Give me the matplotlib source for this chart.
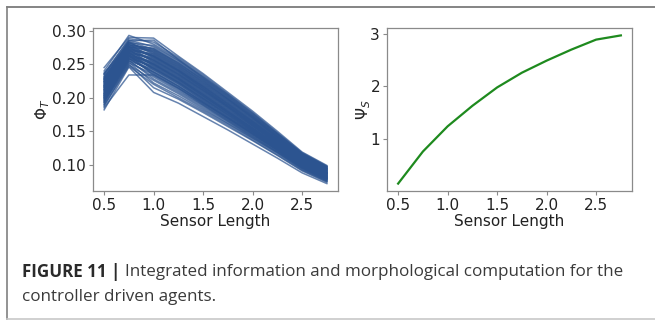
import matplotlib
matplotlib.use("Agg")
import matplotlib.pyplot as plt
from matplotlib.lines import Line2D

# ---- data ----
sensor_length = [0.5, 0.75, 1.0, 1.25, 1.5, 1.75, 2.0, 2.25, 2.5, 2.75]

phi_t_runs = [
    [0.245, 0.290, 0.289, 0.262, 0.236, 0.208, 0.180, 0.150, 0.119, 0.099],
    [0.240, 0.293, 0.280, 0.258, 0.232, 0.205, 0.177, 0.147, 0.117, 0.097],
    [0.236, 0.286, 0.276, 0.255, 0.229, 0.202, 0.174, 0.145, 0.116, 0.096],
    [0.232, 0.284, 0.272, 0.252, 0.226, 0.199, 0.172, 0.143, 0.114, 0.095],
    [0.230, 0.281, 0.270, 0.249, 0.223, 0.197, 0.170, 0.141, 0.113, 0.094],
    [0.228, 0.279, 0.267, 0.246, 0.221, 0.195, 0.168, 0.140, 0.112, 0.093],
    [0.226, 0.283, 0.265, 0.244, 0.219, 0.193, 0.166, 0.138, 0.111, 0.092],
    [0.224, 0.277, 0.263, 0.242, 0.217, 0.191, 0.164, 0.137, 0.110, 0.091],
    [0.222, 0.275, 0.261, 0.240, 0.215, 0.189, 0.163, 0.136, 0.109, 0.090],
    [0.220, 0.280, 0.259, 0.238, 0.213, 0.187, 0.161, 0.135, 0.108, 0.089],
    [0.218, 0.273, 0.257, 0.236, 0.211, 0.186, 0.160, 0.134, 0.107, 0.088],
    [0.216, 0.271, 0.255, 0.234, 0.209, 0.184, 0.158, 0.132, 0.106, 0.087],
    [0.214, 0.276, 0.253, 0.232, 0.207, 0.182, 0.157, 0.131, 0.105, 0.087],
    [0.212, 0.269, 0.251, 0.230, 0.205, 0.180, 0.155, 0.130, 0.104, 0.086],
    [0.210, 0.267, 0.249, 0.228, 0.203, 0.178, 0.154, 0.129, 0.103, 0.085],
    [0.208, 0.272, 0.247, 0.226, 0.201, 0.177, 0.152, 0.128, 0.102, 0.084],
    [0.206, 0.265, 0.245, 0.224, 0.199, 0.175, 0.151, 0.127, 0.101, 0.083],
    [0.204, 0.263, 0.243, 0.222, 0.197, 0.173, 0.149, 0.125, 0.100, 0.082],
    [0.202, 0.268, 0.241, 0.220, 0.195, 0.171, 0.148, 0.124, 0.099, 0.081],
    [0.200, 0.261, 0.239, 0.218, 0.193, 0.170, 0.146, 0.123, 0.098, 0.080],
    [0.198, 0.259, 0.236, 0.215, 0.191, 0.168, 0.145, 0.122, 0.097, 0.079],
    [0.196, 0.264, 0.233, 0.212, 0.189, 0.166, 0.143, 0.120, 0.096, 0.078],
    [0.193, 0.256, 0.228, 0.208, 0.186, 0.164, 0.141, 0.119, 0.095, 0.077],
    [0.190, 0.253, 0.222, 0.203, 0.182, 0.161, 0.139, 0.117, 0.093, 0.076],
    [0.187, 0.250, 0.215, 0.198, 0.178, 0.157, 0.136, 0.114, 0.091, 0.074],
    [0.182, 0.246, 0.208, 0.192, 0.172, 0.152, 0.131, 0.110, 0.088, 0.072],
    [0.185, 0.234, 0.234, 0.214, 0.192, 0.170, 0.147, 0.123, 0.098, 0.079],
    [0.235, 0.288, 0.283, 0.260, 0.234, 0.206, 0.178, 0.148, 0.118, 0.098],
    [0.228, 0.285, 0.286, 0.257, 0.230, 0.203, 0.175, 0.146, 0.116, 0.097],
    [0.225, 0.278, 0.274, 0.253, 0.228, 0.201, 0.173, 0.144, 0.115, 0.095],
    [0.219, 0.282, 0.268, 0.247, 0.222, 0.196, 0.169, 0.141, 0.112, 0.093],
    [0.213, 0.274, 0.262, 0.241, 0.216, 0.190, 0.164, 0.137, 0.110, 0.090],
    [0.209, 0.270, 0.256, 0.235, 0.210, 0.185, 0.159, 0.133, 0.106, 0.088],
    [0.205, 0.266, 0.250, 0.229, 0.204, 0.179, 0.154, 0.129, 0.103, 0.085],
    [0.201, 0.262, 0.244, 0.223, 0.198, 0.174, 0.150, 0.126, 0.100, 0.082],
    [0.197, 0.258, 0.238, 0.217, 0.193, 0.169, 0.146, 0.122, 0.097, 0.080],
    [0.223, 0.270, 0.266, 0.245, 0.220, 0.194, 0.167, 0.139, 0.111, 0.092],
    [0.217, 0.266, 0.260, 0.239, 0.214, 0.188, 0.162, 0.135, 0.108, 0.089],
    [0.211, 0.262, 0.254, 0.233, 0.208, 0.183, 0.158, 0.132, 0.105, 0.087],
    [0.207, 0.258, 0.248, 0.227, 0.202, 0.178, 0.153, 0.128, 0.102, 0.084],
    [0.203, 0.255, 0.242, 0.221, 0.196, 0.172, 0.149, 0.125, 0.099, 0.081],
    [0.199, 0.252, 0.235, 0.214, 0.190, 0.167, 0.144, 0.121, 0.096, 0.079],
    [0.195, 0.249, 0.226, 0.206, 0.184, 0.162, 0.140, 0.118, 0.094, 0.076],
    [0.231, 0.276, 0.271, 0.250, 0.225, 0.198, 0.171, 0.142, 0.113, 0.094],
    [0.227, 0.272, 0.264, 0.243, 0.218, 0.192, 0.165, 0.138, 0.110, 0.091],
    [0.221, 0.268, 0.258, 0.237, 0.212, 0.187, 0.161, 0.134, 0.107, 0.088],
    [0.215, 0.264, 0.252, 0.231, 0.206, 0.181, 0.156, 0.130, 0.104, 0.086],
    [0.189, 0.247, 0.220, 0.200, 0.180, 0.159, 0.137, 0.115, 0.092, 0.075],
    [0.234, 0.282, 0.278, 0.256, 0.231, 0.204, 0.176, 0.146, 0.117, 0.097],
    [0.229, 0.276, 0.269, 0.248, 0.224, 0.198, 0.170, 0.141, 0.113, 0.094],
    [0.224, 0.273, 0.262, 0.241, 0.217, 0.191, 0.165, 0.137, 0.110, 0.091],
    [0.218, 0.270, 0.256, 0.235, 0.211, 0.186, 0.160, 0.133, 0.106, 0.088],
    [0.212, 0.266, 0.250, 0.229, 0.205, 0.180, 0.155, 0.129, 0.103, 0.085],
    [0.206, 0.262, 0.244, 0.223, 0.199, 0.175, 0.151, 0.126, 0.100, 0.082],
    [0.200, 0.258, 0.238, 0.217, 0.194, 0.170, 0.147, 0.123, 0.098, 0.080],
    [0.194, 0.255, 0.231, 0.210, 0.188, 0.165, 0.142, 0.119, 0.095, 0.078],
    [0.237, 0.279, 0.273, 0.251, 0.227, 0.200, 0.172, 0.143, 0.114, 0.095],
    [0.203, 0.276, 0.262, 0.240, 0.214, 0.188, 0.161, 0.134, 0.107, 0.088],
    [0.192, 0.262, 0.250, 0.228, 0.203, 0.178, 0.153, 0.128, 0.102, 0.083],
    [0.216, 0.260, 0.246, 0.225, 0.200, 0.176, 0.152, 0.127, 0.101, 0.083],
]

psi_s = [0.15, 0.76, 1.24, 1.63, 1.98, 2.26, 2.49, 2.70, 2.89, 2.97]

x_ticks = [0.5, 1.0, 1.5, 2.0, 2.5]
phi_ticks = [0.10, 0.15, 0.20, 0.25, 0.30]
psi_ticks = [1, 2, 3]

caption_bold = "FIGURE 11 |"
caption_line1 = "Integrated information and morphological computation for the"
caption_line2 = "controller driven agents."

# ---- figure ----
W, H = 655, 322
fig = plt.figure(figsize=(W / 100, H / 100), dpi=100)
fig.patch.set_facecolor("white")

def fx(px):
    return px / W

def fy(py):
    return 1 - py / H

spine_col = "#8a8a8a"
text_col = "#222222"

ax1 = fig.add_axes([fx(93), fy(191), fx(338) - fx(93), fy(28) - fy(191)])
ax2 = fig.add_axes([fx(387), fy(191), fx(632) - fx(387), fy(28) - fy(191)])

for run in phi_t_runs:
    ax1.plot(sensor_length, run, color="#2c5490", alpha=0.72, lw=1.1)
ax1.set_xticks(x_ticks)
ax1.set_yticks(phi_ticks)
ax1.set_yticklabels([f"{v:.2f}" for v in phi_ticks])
ax1.set_xlabel("Sensor Length", fontsize=11, color=text_col, labelpad=1)
ax1.set_ylabel(r"$\Phi_T$", fontsize=11, color=text_col, labelpad=0)

ax2.plot(sensor_length, psi_s, color="#1e8a1e", lw=1.6)
ax2.set_xticks(x_ticks)
ax2.set_yticks(psi_ticks)
ax2.set_xlabel("Sensor Length", fontsize=11, color=text_col, labelpad=1)
ax2.set_ylabel(r"$\Psi_S$", fontsize=11, color=text_col, labelpad=-2)

for ax in (ax1, ax2):
    for s in ax.spines.values():
        s.set_color(spine_col)
        s.set_linewidth(0.9)
    ax.tick_params(labelsize=11, colors=spine_col, labelcolor=text_col,
                   length=3, width=0.8, pad=2)

# frame around figure panel
fig.add_artist(Line2D([fx(7), 1], [fy(7), fy(7)], transform=fig.transFigure,
                      color="#707070", lw=1.2))
fig.add_artist(Line2D([fx(7), fx(7)], [fy(7), fy(319)], transform=fig.transFigure,
                      color="#808080", lw=1.2))
fig.add_artist(Line2D([fx(7), 1], [fy(319), fy(319)], transform=fig.transFigure,
                      color="#c8c8c8", lw=1.2))

# caption: fit font size so line 1 spans the same width as in the reference
cap_font = "Open Sans"
x_start, x_end = 22, 623
renderer = fig.canvas.get_renderer()

def place(fs):
    t1 = fig.text(fx(x_start), fy(272), caption_bold, fontsize=fs, fontweight="bold",
                  family=cap_font, color="#2a2a2a", va="center", ha="left")
    b1 = t1.get_window_extent(renderer)
    t2 = fig.text(b1.x1 / W + fx(5), fy(272), caption_line1, fontsize=fs,
                  family=cap_font, color="#3a3a3a", va="center", ha="left")
    b2 = t2.get_window_extent(renderer)
    return t1, t2, b2.x1

fs = 11.0
t1, t2, xe = place(fs)
fs = fs * (x_end - x_start) / (xe - x_start)
t1.remove(); t2.remove()
t1, t2, xe = place(fs)
fig.text(fx(x_start), fy(297), caption_line2, fontsize=fs,
         family=cap_font, color="#3a3a3a", va="center", ha="left")

fig.savefig("out.png", dpi=100, facecolor="white")
